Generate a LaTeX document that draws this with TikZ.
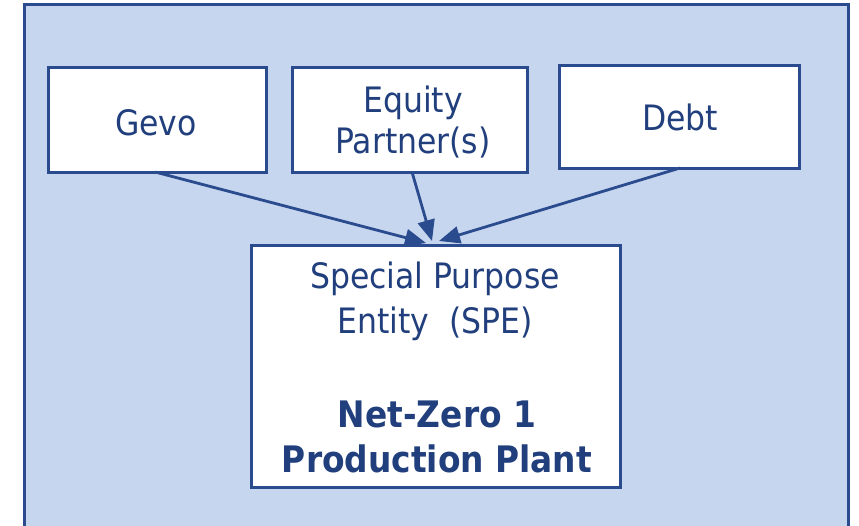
\documentclass[tikz,border=0pt]{standalone}
\usepackage{fontspec}
\setmainfont{DejaVu Sans Condensed}
\usetikzlibrary{arrows.meta}
\definecolor{panel}{HTML}{C6D6EF}
\definecolor{edge}{HTML}{2A4B8D}
\definecolor{ink}{HTML}{213F7C}
\tikzset{
  x=1pt, y=-1pt,
  box/.style={draw=edge, line width=3pt, fill=white, inner sep=0pt},
  label/.style={text=ink, inner sep=0pt, anchor=base, font=\fontsize{35}{40}\selectfont},
  strong/.style={label, font=\fontsize{36.5}{42}\selectfont\bfseries},
  flow/.style={draw=edge, line width=2.8pt, -{Triangle[length=21pt,width=17pt]}}
}
\begin{document}
\begin{tikzpicture}
  \useasboundingbox (0,0) rectangle (859,525);
  % outer panel, open at the bottom
  \fill[panel] (24,4) rectangle (848,530);
  \draw[edge, line width=3pt] (24,530) -- (24,4) -- (848,4) -- (848,530);
  % funding sources
  \node[box, minimum width=218pt, minimum height=105pt] (gevo) at (157,119.5) {};
  \node[box, minimum width=235pt, minimum height=105pt] (equity) at (409.5,119.5) {};
  \node[box, minimum width=240pt, minimum height=103pt] (debt) at (679,116.5) {};
  \node[label] (gevotext) at (156,135) {Gevo};
  \node[label] (equitytext1) at (413,112) {Equity};
  \node[label] (equitytext2) at (413,153) {Partner(s)};
  \node[label] (debttext) at (680,130) {Debt};
  % project entity
  \node[box, minimum width=369pt, minimum height=242pt] (spe) at (435.5,366) {};
  \node[label] (spetext1) at (435,288) {Special Purpose};
  \node[label] (spetext2) at (435,333) {Entity\ \ (SPE)};
  \node[strong] (planttext1) at (437,427) {Net-Zero 1};
  \node[strong] (planttext2) at (437,472) {Production Plant};
  % capital flows
  \coordinate (gin) at (426,243);
  \coordinate (ein) at (432,241);
  \coordinate (din) at (439,241);
  \draw[flow] (155,172) -- (gin);
  \draw[flow] (412,172) -- (ein);
  \draw[flow] (680,168) -- (din);
\end{tikzpicture}
\end{document}
